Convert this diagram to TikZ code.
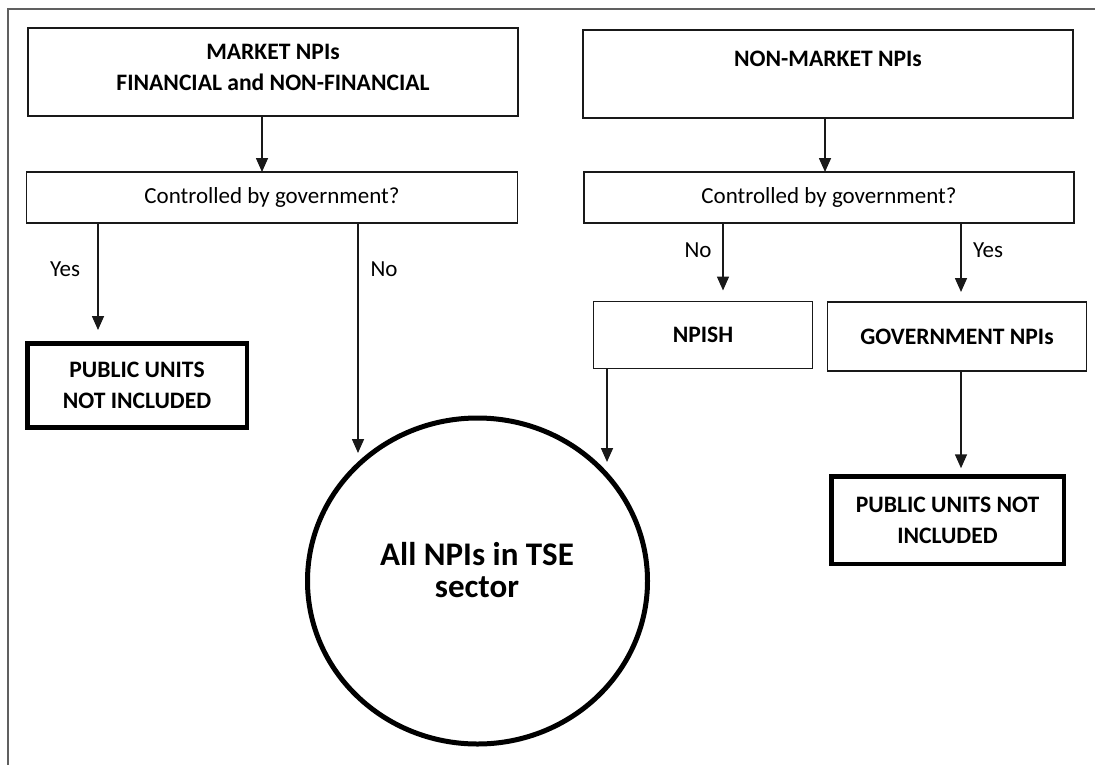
\documentclass[tikz,border=0pt]{standalone}
\usepackage{fontspec}
\setmainfont{Carlito}
\usetikzlibrary{arrows.meta,shapes.geometric}
\begin{document}
\begin{tikzpicture}[x=1pt,y=-1pt,
  every node/.style={align=center, inner sep=0pt, outer sep=0pt},
  plain/.style={font=\fontsize{23}{30}\selectfont},
  bold/.style={font=\fontsize{23.6}{31}\selectfont\bfseries},
  box/.style={draw=black!90, line width=1.6pt},
  heavybox/.style={draw=black, line width=4.5pt},
  flow/.style={draw=black!90, line width=1.6pt, -{Triangle[width=12pt,length=14pt]}},
  bigtext/.style={font=\fontsize{33}{32}\selectfont\bfseries}]
\useasboundingbox (0,0) rectangle (1095,764);
\clip (0,0) rectangle (1095,764);
% outer frame
\draw[gray!75!black, line width=2pt] (8,9) rectangle (1120,790);

% top row
\node[box, minimum width=490pt, minimum height=88pt] (mkt) at (273,72) {};
\node[bold] (mkttext) at (273,67) {MARKET NPIs\\FINANCIAL and NON-FINANCIAL};
\node[box, bold, minimum width=490pt, minimum height=88pt] (nmk) at (828,74)
  {NON-MARKET NPIs\\\mbox{}};

% decision boxes
\node[box, plain, minimum width=491pt, minimum height=51pt] (cl) at (272,197.5)
  {Controlled by government?};
\node[box, plain, minimum width=490pt, minimum height=51pt] (cr) at (829,197.5)
  {Controlled by government?};

% outcome boxes
\node[heavybox, bold, minimum width=219.5pt, minimum height=84pt] (pul) at (137,385.5)
  {PUBLIC UNITS\\NOT INCLUDED};
\node[box, bold, minimum width=219pt, minimum height=67pt] (npish) at (703,335)
  {NPISH};
\node[box, bold, minimum width=259pt, minimum height=69pt] (gov) at (957,336.5)
  {GOVERNMENT NPIs};
\node[heavybox, bold, minimum width=232.5pt, minimum height=87.5pt] (pur) at (947.5,520)
  {PUBLIC UNITS NOT\\INCLUDED};

% target sector
\node[draw=black, line width=5pt, ellipse, minimum width=340pt, minimum height=326pt] (tse) at (477.5,581) {};
\node[bigtext] (tsetext) at (477,570) {All NPIs in TSE\\sector};

% arrow columns and free ends
\coordinate (xm) at (262,0);
\coordinate (xn) at (825,0);
\coordinate (yesL) at (98,330);
\coordinate (noL) at (358,453);
\coordinate (noR) at (723,301);
\coordinate (yesR) at (961,302);
\coordinate (npEnd) at (607,462);
\coordinate (govEnd) at (961,474);

\draw[flow] (mkt.south -| xm) -- (cl.north -| xm);
\draw[flow] (nmk.south -| xn) -- (cr.north -| xn);
\draw[flow] (cl.south -| yesL) -- (yesL);
\draw[flow] (cl.south -| noL) -- (noL);
\draw[flow, shorten >=11pt] (cr.south -| noR) -- (npish.north -| noR);
\draw[flow, shorten >=10pt] (cr.south -| yesR) -- (gov.north -| yesR);
\draw[flow] (npish.south -| npEnd) -- (npEnd);
\draw[flow, shorten >=8pt] (gov.south -| govEnd) -- (pur.north -| govEnd);

% branch labels
\node[plain] (lyesL) at (65,269) {Yes};
\node[plain] (lnoL) at (384,269) {No};
\node[plain] (lnoR) at (698,250) {No};
\node[plain] (lyesR) at (988,250) {Yes};
\end{tikzpicture}
\end{document}
